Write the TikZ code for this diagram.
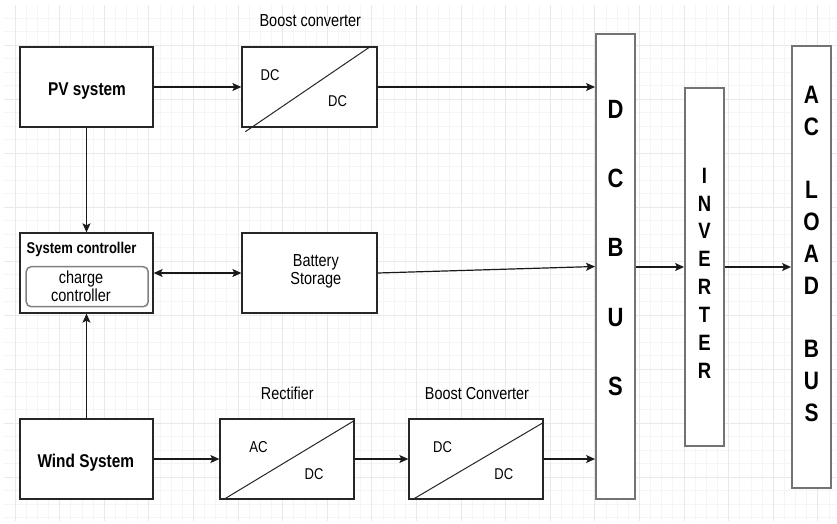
\documentclass[tikz,border=0pt]{standalone}
\usepackage{fontspec}
\setmainfont{Liberation Sans}
\usepackage{graphicx}
\usetikzlibrary{arrows.meta,calc}

% text is drawn slightly taller than wide
\newcommand{\tall}[1]{\scalebox{1}[1.2]{#1}}
\newcommand{\fsz}[2]{\fontsize{#1}{#2}\selectfont}
\newcommand{\stack}[1]{\begin{tabular}[t]{@{}c@{}}#1\end{tabular}}

\definecolor{gmin}{HTML}{F5F5F5}
\definecolor{gmaj}{HTML}{E9E9E9}

\begin{document}
\begin{tikzpicture}[x=1pt,y=-1pt,
  blk/.style={draw=black!85, line width=1.3pt, fill=white, inner sep=0pt},
  busbox/.style={draw=black!55, line width=1.9pt, fill=white, inner sep=0pt, minimum width=39},
  subbox/.style={draw=black!50, line width=1.5pt, fill=white, rounded corners=5pt, inner sep=0pt},
  lbl/.style={inner sep=0pt, anchor=base, text=black},
  diag/.style={draw=black!85, line width=1pt},
  arr/.style={draw=black!90, line width=1.2pt, -{Stealth[length=9pt,width=8pt,inset=2pt]}},
  darr/.style={draw=black!90, line width=1.2pt, {Stealth[length=9pt,width=8pt,inset=2pt]}-{Stealth[length=9pt,width=8pt,inset=2pt]}},
]
\fill[white] (0,0) rectangle (837,523);
\useasboundingbox (0,0) rectangle (837,523);

% background grid
\begin{scope}
  \clip (4,5) rectangle (837,521);
  \foreach \i in {0,...,75} \draw[gmin, line width=0.8pt] ({3.85+11.15*\i},5) -- ++(0,516);
  \foreach \j in {0,...,38} \draw[gmin, line width=0.8pt] (4,{4.8+13.5*\j}) -- ++(833,0);
  \foreach \i in {0,...,18} \draw[gmaj, line width=0.8pt] ({15+44.6*\i},5) -- ++(0,516);
  \foreach \j in {0,...,8} \draw[gmaj, line width=0.8pt] (4,{45.3+54*\j}) -- ++(833,0);
\end{scope}

% sources, controller and storage
\node[blk, minimum width=133, minimum height=80] (pv) at (86.5,87) {};
\node[lbl] (pvt) at (87,95) {\fsz{15.4}{18}\tall{\bfseries PV system}};

\node[blk, minimum width=133, minimum height=80] (ctrl) at (86.5,273) {};
\node[lbl, anchor=base west] (ctrlt) at (26.5,253.3) {\fsz{13}{15}\tall{\bfseries System controller}};
\node[subbox, minimum width=122, minimum height=40] (charge) at (87.2,286.7) {};
\node[lbl] (charget) at (81,283.5) {\fsz{14.5}{14.6}\tall{\stack{charge\\controller}}};

\node[blk, minimum width=135, minimum height=80] (batt) at (309.5,273) {};
\node[lbl] (battt) at (315.8,266) {\fsz{14.5}{15}\tall{\stack{Battery\\Storage}}};

\node[blk, minimum width=133, minimum height=80] (wind) at (86.5,459) {};
\node[lbl] (windt) at (85.8,467.3) {\fsz{15.4}{18}\tall{\bfseries Wind System}};

% converters
\node[blk, minimum width=135, minimum height=80] (boost1) at (309.5,87) {};
\draw[diag] ($(boost1.south west)+(4,4)$) -- ($(boost1.north east)+(-7,0)$);
\node[lbl] (boost1t) at (310.3,26.7) {\fsz{14.5}{17}\tall{Boost converter}};
\node[lbl] (boost1in) at (270,80.7) {\fsz{13}{15}\tall{DC}};
\node[lbl] (boost1out) at (337.5,106.7) {\fsz{13}{15}\tall{DC}};

\node[blk, minimum width=134, minimum height=80] (rect) at (287,459) {};
\draw[diag] ($(rect.south west)+(4,0)$) -- ($(rect.north east)+(0,2)$);
\node[lbl] (rectt) at (287.3,399) {\fsz{14.4}{17}\tall{Rectifier}};
\node[lbl] (rectin) at (258.5,452.3) {\fsz{13.2}{15}\tall{AC}};
\node[lbl] (rectout) at (314,479) {\fsz{13}{15}\tall{DC}};

\node[blk, minimum width=134, minimum height=80] (boost2) at (476,459) {};
\draw[diag] ($(boost2.south west)+(4,0)$) -- ($(boost2.north east)+(0,4)$);
\node[lbl] (boost2t) at (477,399) {\fsz{14.4}{17}\tall{Boost Converter}};
\node[lbl] (boost2in) at (442.5,452.7) {\fsz{13}{15}\tall{DC}};
\node[lbl] (boost2out) at (503.8,479) {\fsz{13}{15}\tall{DC}};

% buses and inverter
\node[busbox, minimum height=465] (dcbus) at (615.5,266.5) {};
\node[lbl] (dcbust) at (615.5,118.3) {\fsz{22}{57.7}\tall{\bfseries\stack{D\\C\\B\\U\\S}}};

\node[busbox, minimum height=358] (inv) at (704.5,267) {};
\node[lbl] (invt) at (704.5,183.3) {\fsz{18.5}{23.2}\tall{\bfseries\stack{I\\N\\V\\E\\R\\T\\E\\R}}};

\node[busbox, minimum height=442] (acbus) at (811.5,267) {};
\node[lbl] (acbust) at (811.5,103.3) {\fsz{21}{26.5}\tall{\bfseries\stack{A\\C\\ \\L\\O\\A\\D\\ \\B\\U\\S}}};

% connectors
\draw[arr] (pv) -- (boost1);
\draw[arr] (boost1.east) -- (boost1.east -| dcbus.west);
\draw[arr] (pv.south) -- (ctrl.north);
\draw[darr] (ctrl.east) -- (batt.west);
\draw[arr] (batt.east) -- (dcbus.west);
\draw[arr] (wind.north) -- (ctrl.south);
\draw[arr] (wind) -- (rect);
\draw[arr] (rect) -- (boost2);
\draw[arr] (boost2.east) -- (boost2.east -| dcbus.west);
\draw[arr] (dcbus.east |- inv.west) -- (inv.west);
\draw[arr] (inv.east) -- (inv.east -| acbus.west);
\end{tikzpicture}
\end{document}
